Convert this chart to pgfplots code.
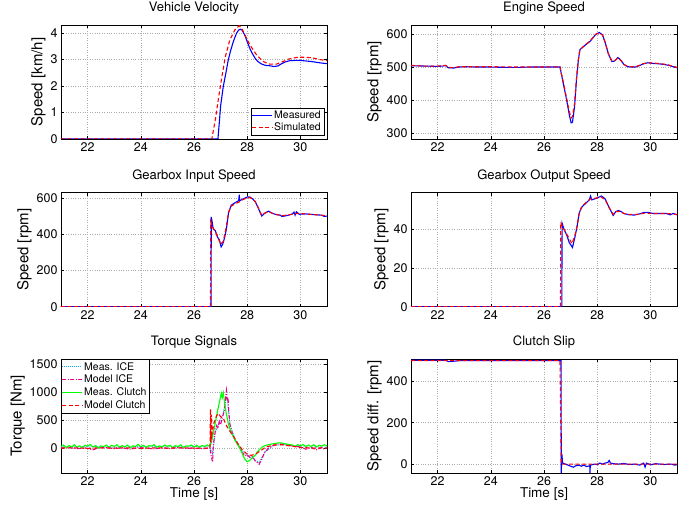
\documentclass[border=0pt]{standalone}
\usepackage{pgfplots}
\pgfplotsset{compat=1.18}
\usepackage{fontspec}
\setmainfont{TeX Gyre Heros}
\pgfplotsset{
  myax/.style={
    scale only axis, width=266pt, height=114pt,
    xmin=21, xmax=31, xtick={22,24,...,30},
    grid=major, grid style={dotted, gray!65, line width=0.45pt},
    tick align=inside, major tick length=3pt,
    axis line style={line width=0.6pt},
    tick style={black, line width=0.5pt},
    tick label style={font=\fontsize{12.5}{14}\selectfont},
    /pgf/number format/assume math mode=true,
    /pgf/number format/1000 sep={},
    title style={font=\fontsize{13}{15}\selectfont, yshift=1pt},
    ylabel style={font=\fontsize{15}{17}\selectfont, yshift=-2pt},
    xlabel style={font=\fontsize{13.5}{15}\selectfont, yshift=5pt},
    clip=true,
  },
  meas/.style={blue, line width=1.1pt},
  sim/.style={red, line width=1.1pt, dash pattern=on 4pt off 2.5pt},
  lsolid/.style={legend image code/.code={\fill[#1, draw=none] (0pt,-0.6pt) rectangle (20pt,0.6pt);}},
  ldash/.style={legend image code/.code={
     \fill[#1, draw=none] (0pt,-0.6pt) rectangle (4pt,0.6pt);
     \fill[#1, draw=none] (6.5pt,-0.6pt) rectangle (10.5pt,0.6pt);
     \fill[#1, draw=none] (13pt,-0.6pt) rectangle (17pt,0.6pt);
     \fill[#1, draw=none] (19.5pt,-0.6pt) rectangle (20pt,0.6pt);}},
  ldashdot/.style={legend image code/.code={
     \fill[#1, draw=none] (0pt,-0.6pt) rectangle (4pt,0.6pt);
     \fill[#1, draw=none] (5.5pt,-0.6pt) rectangle (6.5pt,0.6pt);
     \fill[#1, draw=none] (8pt,-0.6pt) rectangle (12pt,0.6pt);
     \fill[#1, draw=none] (13.5pt,-0.6pt) rectangle (14.5pt,0.6pt);
     \fill[#1, draw=none] (16pt,-0.6pt) rectangle (20pt,0.6pt);}},
  ldot/.style={legend image code/.code={
     \fill[#1, draw=none] (0pt,-0.45pt) rectangle ++(0.9pt,0.9pt);
     \fill[#1, draw=none] (2pt,-0.45pt) rectangle ++(0.9pt,0.9pt);
     \fill[#1, draw=none] (4pt,-0.45pt) rectangle ++(0.9pt,0.9pt);
     \fill[#1, draw=none] (6pt,-0.45pt) rectangle ++(0.9pt,0.9pt);
     \fill[#1, draw=none] (8pt,-0.45pt) rectangle ++(0.9pt,0.9pt);
     \fill[#1, draw=none] (10pt,-0.45pt) rectangle ++(0.9pt,0.9pt);
     \fill[#1, draw=none] (12pt,-0.45pt) rectangle ++(0.9pt,0.9pt);
     \fill[#1, draw=none] (14pt,-0.45pt) rectangle ++(0.9pt,0.9pt);
     \fill[#1, draw=none] (16pt,-0.45pt) rectangle ++(0.9pt,0.9pt);
     \fill[#1, draw=none] (18pt,-0.45pt) rectangle ++(0.9pt,0.9pt);}},
}
\begin{document}
\begin{tikzpicture}[x=1pt,y=1pt]
\path[use as bounding box] (0,0) rectangle (691,506);

% ---------- Vehicle Velocity ----------
\begin{axis}[myax, at={(61pt,481pt)}, anchor=north west,
  ymin=0, ymax=4.31, ytick={0,1,2,3,4},
  title={Vehicle Velocity}, ylabel={Speed [km/h]},
  legend style={at={(1,0)}, anchor=south east, xshift=-3pt, yshift=4pt,
    font=\fontsize{10.5}{12}\selectfont, inner sep=1pt, row sep=-1.5pt},
  legend cell align=left]
\addplot[meas, lsolid=blue] coordinates {(21,0) (26.9,0) (26.95,0.6) (27.0,1.25) (27.1,1.98) (27.22,2.61) (27.28,2.95) (27.38,3.35) (27.48,3.69) (27.6,4.0) (27.68,4.12) (27.74,4.15) (27.8,4.12) (27.9,3.95) (28.0,3.68) (28.1,3.42) (28.2,3.22) (28.3,3.05) (28.4,2.93) (28.55,2.83) (28.7,2.78) (28.85,2.77) (29.0,2.74) (29.15,2.76) (29.3,2.85) (29.45,2.92) (29.6,2.96) (29.8,2.97) (30.0,2.97) (30.2,2.95) (30.4,2.93) (30.6,2.9) (30.8,2.87) (31,2.85)};
\addlegendentry{Measured}
\addplot[sim, ldash=red] coordinates {(21,0) (26.67,0) (26.8,0.72) (26.93,1.6) (27.05,2.36) (27.18,3.12) (27.35,3.75) (27.54,4.13) (27.7,4.28) (27.8,4.18) (27.91,3.94) (28.1,3.56) (28.35,3.18) (28.6,2.93) (28.85,2.83) (29.1,2.83) (29.35,2.93) (29.55,3.02) (29.73,3.06) (29.9,3.09) (30.1,3.09) (30.3,3.08) (30.49,3.06) (30.75,3.0) (31,2.96)};
\addlegendentry{Simulated}
\end{axis}

% ---------- Engine Speed ----------
\begin{axis}[myax, at={(411pt,481pt)}, anchor=north west,
  ymin=281, ymax=628, ytick={300,400,500,600},
  title={Engine Speed}, ylabel={Speed [rpm]}]
\addplot[meas] coordinates {(21,504) (21.5,503) (22.0,502) (22.2,503) (22.3,505) (22.4,498) (22.6,497) (22.8,500) (23.0,501) (23.5,500) (24,500) (24.5,499) (25,499) (25.5,500) (26,500) (26.6,500) (26.65,480) (26.75,440) (26.85,400) (26.95,355) (27.02,330) (27.07,332) (27.15,380) (27.22,460) (27.29,520) (27.35,553) (27.45,560) (27.6,570) (27.73,578) (27.85,590) (27.95,600) (28.08,605) (28.2,598) (28.3,575) (28.42,540) (28.55,517) (28.65,518) (28.78,529) (28.9,520) (29.0,508) (29.15,501) (29.3,500) (29.45,500) (29.6,505) (29.75,510) (29.9,513) (30.1,511) (30.3,510) (30.5,508) (30.7,505) (30.9,500) (31,498)};
\addplot[sim] coordinates {(21,505) (21.5,503) (22.0,503) (22.3,505) (22.4,499) (22.6,498) (22.8,501) (23.0,501) (24,501) (25,500) (26,500) (26.6,501) (26.65,482) (26.75,445) (26.85,405) (26.95,365) (27.02,345) (27.07,350) (27.15,390) (27.22,465) (27.29,522) (27.35,552) (27.45,560) (27.6,571) (27.73,579) (27.85,591) (27.95,600) (28.08,604) (28.2,597) (28.3,574) (28.42,540) (28.55,519) (28.65,519) (28.78,528) (28.9,519) (29.0,508) (29.15,502) (29.3,501) (29.45,501) (29.6,506) (29.75,511) (29.9,513) (30.1,512) (30.3,511) (30.5,509) (30.7,506) (30.9,501) (31,499)};
\end{axis}

% ---------- Gearbox Input Speed ----------
\begin{axis}[myax, at={(61pt,313.3pt)}, anchor=north west,
  ymin=0, ymax=629, ytick={0,200,400,600},
  title={Gearbox Input Speed}, ylabel={Speed [rpm]}]
\addplot[meas] coordinates {(21,0) (26.64,0) (26.65,495) (26.68,470) (26.72,430) (26.8,420) (26.88,385) (26.95,370) (27.02,330) (27.08,345) (27.15,380) (27.22,430) (27.3,520) (27.4,560) (27.5,570) (27.6,578) (27.68,585) (27.7,618) (27.72,585) (27.85,595) (28.0,605) (28.1,605) (28.2,595) (28.3,580) (28.4,550) (28.5,515) (28.55,500) (28.65,515) (28.8,527) (28.95,515) (29.1,508) (29.25,505) (29.3,498) (29.4,500) (29.55,505) (29.7,512) (29.76,522) (29.8,505) (29.85,524) (29.95,510) (30.2,512) (30.5,508) (30.8,505) (30.9,498) (31,500)};
\addplot[sim] coordinates {(21,0) (26.62,0) (26.63,470) (26.7,440) (26.85,400) (27.0,345) (27.1,360) (27.2,430) (27.3,520) (27.4,555) (27.55,568) (27.7,578) (27.85,592) (28.0,600) (28.1,602) (28.2,594) (28.3,580) (28.4,552) (28.5,518) (28.55,505) (28.65,515) (28.8,525) (28.95,515) (29.1,508) (29.3,503) (29.5,505) (29.7,510) (29.9,515) (30.2,512) (30.5,508) (30.8,505) (31,500)};
\end{axis}

% ---------- Gearbox Output Speed ----------
\begin{axis}[myax, at={(411pt,313.3pt)}, anchor=north west,
  ymin=0, ymax=58.7, ytick={0,20,40},
  title={Gearbox Output Speed}, ylabel={Speed [rpm]}]
\addplot[meas] coordinates {(21,0) (26.67,0) (26.68,43) (26.75,40) (26.85,37) (26.95,33) (27.07,30.5) (27.15,35) (27.24,41) (27.32,48) (27.4,51) (27.55,53) (27.7,55) (27.75,57) (27.8,55) (28.0,56) (28.16,57) (28.3,55.5) (28.45,51) (28.6,47) (28.7,49) (28.8,49.5) (28.9,49) (29.0,48) (29.2,47.3) (29.4,47.2) (29.6,47.8) (29.75,48.5) (29.9,48.6) (30.1,48) (30.4,48) (30.6,48) (30.75,47.3) (30.85,48) (31,47.3)};
\addplot[sim] coordinates {(21,0) (26.62,0) (26.63,43.5) (26.7,41) (26.85,37.5) (27.05,32.5) (27.15,36) (27.25,42) (27.33,48.5) (27.45,52) (27.6,54) (27.75,55.5) (28.0,56) (28.15,56.5) (28.3,55) (28.45,51) (28.6,47.5) (28.7,49) (28.85,49) (29.0,48) (29.2,47.5) (29.5,47.5) (29.8,48.2) (30.1,48) (30.5,48) (30.8,47.8) (31,47.5)};
\end{axis}

% ---------- Torque Signals ----------
\begin{axis}[myax, at={(61pt,147pt)}, anchor=north west,
  ymin=-446, ymax=1595, ytick={0,500,1000,1500},
  title={Torque Signals}, ylabel={Torque [Nm]}, xlabel={Time [s]},
  legend style={at={(0,1)}, anchor=north west,
    font=\fontsize{10.5}{12}\selectfont, inner sep=1pt, row sep=-0.5pt},
  legend cell align=left]
\addplot[cyan, line width=0.9pt, densely dotted, ldot=cyan] coordinates {(21,20) (22,25) (23,15) (24,25) (25,20) (26,25) (26.6,20) (26.7,-100) (26.8,280) (26.95,460) (27.1,620) (27.2,900) (27.25,880) (27.35,430) (27.55,150) (27.8,-50) (28.1,-150) (28.45,-260) (28.65,-80) (29.0,50) (29.4,60) (30,20) (31,20)};
\addlegendentry{Meas. ICE}
\addplot[magenta, line width=1.1pt, dash pattern=on 4pt off 1.5pt on 1pt off 1.5pt, ldashdot=magenta] coordinates {(21,0) (21.3,10) (21.6,-10) (21.9,5) (22.2,-30) (22.4,0) (22.7,10) (23.0,-10) (23.3,5) (23.6,-20) (23.9,10) (24.2,0) (24.5,-15) (24.8,5) (25.1,-10) (25.4,10) (25.7,-5) (26.0,0) (26.3,-10) (26.6,0) (26.65,-150) (26.7,-250) (26.73,80) (26.8,300) (26.85,400) (26.9,350) (26.95,480) (27.0,420) (27.05,520) (27.1,600) (27.15,700) (27.2,960) (27.22,1030) (27.25,850) (27.28,900) (27.3,700) (27.35,420) (27.45,250) (27.55,140) (27.7,20) (27.8,-60) (27.9,-140) (28.0,-120) (28.1,-170) (28.2,-150) (28.3,-230) (28.45,-290) (28.55,-200) (28.65,-80) (28.8,0) (29.0,50) (29.2,80) (29.4,60) (29.7,40) (30.0,20) (30.2,-20) (30.4,10) (30.6,-30) (30.8,10) (30.9,-20) (31,5)};
\addlegendentry{Model ICE}
\addplot[green, line width=1.1pt, lsolid=green] coordinates {(21.0,30) (21.1,55) (21.2,10) (21.3,45) (21.4,20) (21.5,60) (21.6,15) (21.7,40) (21.8,5) (21.9,50) (22.0,35) (22.1,65) (22.2,20) (22.3,45) (22.4,0) (22.5,40) (22.6,25) (22.7,55) (22.8,10) (22.9,50) (23.0,30) (23.1,60) (23.2,15) (23.3,45) (23.4,20) (23.5,55) (23.6,5) (23.7,40) (23.8,30) (23.9,65) (24.0,25) (24.1,50) (24.2,10) (24.3,45) (24.4,35) (24.5,60) (24.6,15) (24.7,40) (24.8,20) (24.9,55) (25.0,30) (25.1,50) (25.2,5) (25.3,45) (25.4,25) (25.5,60) (25.6,10) (25.7,40) (25.8,35) (25.9,55) (26.0,20) (26.1,50) (26.2,15) (26.3,45) (26.4,30) (26.5,55) (26.6,30) (26.65,100) (26.7,200) (26.8,450) (26.9,700) (26.97,850) (27.0,930) (27.03,980) (27.06,900) (27.1,990) (27.15,820) (27.2,650) (27.3,420) (27.4,280) (27.5,180) (27.6,90) (27.7,20) (27.8,-80) (27.9,-190) (28.0,-245) (28.1,-220) (28.2,-170) (28.3,-130) (28.4,-60) (28.5,-10) (28.6,30) (28.7,50) (28.8,60) (29.0,80) (29.2,95) (29.3,90) (29.5,70) (29.7,55) (29.8,30) (29.9,60) (30.0,40) (30.1,65) (30.2,25) (30.3,55) (30.4,30) (30.5,60) (30.6,20) (30.7,50) (30.8,35) (30.9,60) (31.0,40)};
\addlegendentry{Meas. Clutch}
\addplot[red, line width=1.1pt, dash pattern=on 4pt off 2.5pt, ldash=red] coordinates {(21,0) (21.5,5) (22,-5) (22.5,5) (23,0) (23.5,5) (24,-5) (24.5,5) (25,0) (25.5,5) (26,0) (26.6,0) (26.62,700) (26.63,100) (26.65,600) (26.68,250) (26.75,450) (26.85,580) (26.92,620) (27.0,560) (27.1,540) (27.2,420) (27.35,300) (27.5,200) (27.65,80) (27.8,-20) (28.0,-110) (28.15,-130) (28.3,-110) (28.5,-50) (28.7,20) (29.0,55) (29.3,60) (29.6,40) (30.0,10) (30.5,0) (31,5)};
\addlegendentry{Model Clutch}
\end{axis}

% ---------- Clutch Slip ----------
\begin{axis}[myax, at={(411pt,147pt)}, anchor=north west,
  ymin=-43, ymax=508, ytick={0,200,400},
  title={Clutch Slip}, ylabel={Speed diff. [rpm]}, xlabel={Time [s]}]
\addplot[meas] coordinates {(21,502) (22.3,502) (22.4,496) (22.6,497) (22.8,500) (26.64,500) (26.65,-43) (26.67,50) (26.7,5) (26.8,0) (26.9,-5) (27.0,-10) (27.1,-15) (27.2,-8) (27.3,-5) (27.4,-10) (27.5,-5) (27.6,-12) (27.72,-8) (27.73,-43) (27.74,-5) (27.9,0) (28.0,-3) (28.1,5) (28.2,0) (28.3,5) (28.4,8) (28.45,18) (28.5,5) (28.6,2) (28.8,0) (29.0,3) (29.2,-2) (29.4,0) (29.6,-5) (29.75,5) (29.8,-15) (29.85,5) (30.0,-3) (30.2,2) (30.5,-2) (30.8,0) (30.9,-5) (31,-3)};
\addplot[sim] coordinates {(21,500) (26.6,500) (26.65,0) (31,0)};
\end{axis}
\end{tikzpicture}
\end{document}
